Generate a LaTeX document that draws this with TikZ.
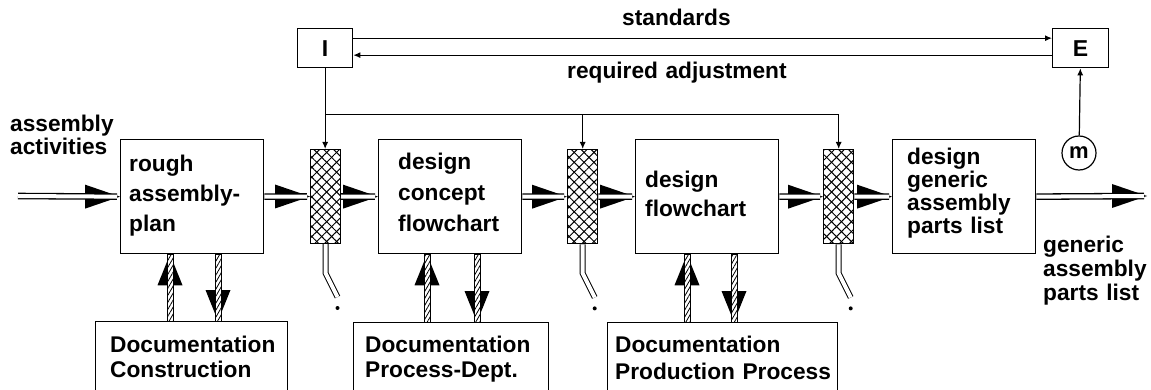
\documentclass[tikz,border=0pt]{standalone}
\usepackage{fontspec}
\setmainfont{Liberation Sans}
\usetikzlibrary{calc}
\usetikzlibrary{arrows.meta}
\usetikzlibrary{patterns.meta}

\tikzset{
  blk/.style={draw, line width=1.3pt, minimum width=143pt, minimum height=114pt, inner sep=0pt, anchor=north west},
  docblk/.style={draw, line width=1.3pt, minimum height=90pt, inner sep=0pt, anchor=north west},
  smallblk/.style={draw, line width=1.3pt, minimum width=55pt, minimum height=39pt, inner sep=0pt, anchor=north west,
    font=\fontsize{23}{26}\selectfont\bfseries},
  filterbar/.style={draw, line width=1.4pt, minimum width=30pt, minimum height=94pt, inner sep=0pt, anchor=north west,
    pattern={Lines[angle=45,distance=7pt,line width=1pt]},
    preaction={pattern={Lines[angle=-45,distance=7pt,line width=1pt]}}},
  lbl/.style={font=\fontsize{22.7}{30}\selectfont\bfseries, align=left, text width=240pt, inner sep=0pt, anchor=base west},
  ctrl/.style={line width=1.2pt, -{Latex[length=7pt,width=6pt]}},
  drain/.style={line width=1pt, double distance=4pt},
  docshaft/.style={line width=0.9pt, preaction={fill=white}, pattern={Lines[angle=60,distance=3.5pt,line width=0.8pt]}},
}

% double line running left to right, big black head, white core up to the tip
\newcommand\flowarrow[2]{%
  \fill (#2) -- ($(#2)+(-35,-12)$) -- ($(#2)+(-35,12)$) -- cycle;
  \draw[line width=1.3pt, double distance=4pt] (#1) -- ($(#2)+(-3,0)$);
}
% hatched shaft with a black head (vertical only)
\newcommand\docarrow[2]{%
  \coordinate (dabase) at ($(#2)!31pt!(#1)$);
  \fill (#2) -- ($(dabase)+(-12.5,0)$) -- ($(dabase)+(12.5,0)$) -- cycle;
  \draw[docshaft] ($(#1)+(-3,0)$) rectangle ($(#2)+(3,0)$);
}

\begin{document}
\begin{tikzpicture}[x=1pt,y=-1pt]
	\useasboundingbox (0,0) rectangle (1151,390);
	\clip (0,0) rectangle (1151,390);

	%Process blocks
	\node[blk] (b1) at (120,139) {};
	\node[blk] (b2) at (378,139) {};
	\node[blk] (b3) at (635,139) {};
	\node[blk] (b4) at (892,139) {};
	\node[lbl] (t1) at (129,172) {rough\\assembly-\\plan};
	\node[lbl, font=\fontsize{22.7}{31}\selectfont\bfseries] (t2) at (398,170) {design\\concept\\flowchart};
	\node[lbl, font=\fontsize{22.7}{29}\selectfont\bfseries] (t3) at (645,188) {design\\flowchart};
	\node[lbl, font=\fontsize{22.7}{22.7}\selectfont\bfseries] (t4) at (907,165) {design\\generic\\assembly\\parts list};

	%Filters
	\node[filterbar] (h1) at (310,149) {};
	\node[filterbar] (h2) at (567,149) {};
	\node[filterbar] (h3) at (823,149) {};

	%Documentation
	\node[docblk, minimum width=192pt] (d1) at (95,321) {};
	\node[docblk, minimum width=195pt] (d2) at (353,322) {};
	\node[docblk, minimum width=230pt] (d3) at (607,322) {};
	\node[lbl, font=\fontsize{22.7}{25}\selectfont\bfseries] (td1) at (110,352) {Documentation\\Construction};
	\node[lbl, font=\fontsize{22.7}{25}\selectfont\bfseries] (td2) at (365,352) {Documentation\\Process-Dept.};
	\node[lbl, font=\fontsize{22.7}{27}\selectfont\bfseries] (td3) at (615,352) {Documentation\\Production Process};

	%Main flow
	\coordinate (src) at (18,196);
	\coordinate (sink) at (1147,196);
	\node[lbl, font=\fontsize{22.7}{21}\selectfont\bfseries] (tin) at (10,132) {assembly\\activities};
	\node[lbl, font=\fontsize{22.7}{24}\selectfont\bfseries] (tout) at (1043,252) {generic\\assembly\\parts list};
	\flowarrow{src}{b1.west}
	\flowarrow{b1.east}{h1.west}
	\flowarrow{h1.east}{b2.west}
	\flowarrow{b2.east}{h2.west}
	\flowarrow{h2.east}{b3.west}
	\flowarrow{b3.east}{h3.west}
	\flowarrow{h3.east}{b4.west}
	\flowarrow{b4.east}{sink}

	%Exchange with documentation
	\path ($(b1.south west)+(50,0)$) coordinate (u1t) (u1t |- d1.north) coordinate (u1s);
	\path ($(b1.south west)+(98,0)$) coordinate (v1s) (v1s |- d1.north) coordinate (v1t);
	\path ($(b2.south west)+(49,0)$) coordinate (u2t) (u2t |- d2.north) coordinate (u2s);
	\path ($(b2.south west)+(99,0)$) coordinate (v2s) (v2s |- d2.north) coordinate (v2t);
	\path ($(b3.south west)+(52,0)$) coordinate (u3t) (u3t |- d3.north) coordinate (u3s);
	\path ($(b3.south west)+(99,0)$) coordinate (v3s) (v3s |- d3.north) coordinate (v3t);
	\docarrow{u1s}{u1t}
	\docarrow{v1s}{v1t}
	\docarrow{u2s}{u2t}
	\docarrow{v2s}{v2t}
	\docarrow{u3s}{u3t}
	\docarrow{v3s}{v3t}

	%Drains
	\draw[drain] (h1.south) -- ++(0,29) -- ++(12,24) coordinate (dr1);
	\draw[drain] (h2.south) -- ++(0,29) -- ++(12,24) coordinate (dr2);
	\draw[drain] (h3.south) -- ++(0,29) -- ++(12,24) coordinate (dr3);
	\fill ($(dr1)+(0,11)$) coordinate (drip1) circle (2);
	\fill ($(dr2)+(0,11)$) coordinate (drip2) circle (2);
	\fill ($(dr3)+(0,11)$) coordinate (drip3) circle (2);

	%Control loop
	\node[smallblk] (ibox) at (297,28) {I};
	\node[smallblk, minimum width=56pt] (ebox) at (1052,28) {E};
	\node[draw, circle, line width=1.2pt, minimum size=34pt, inner sep=0pt, font=\fontsize{22}{24}\selectfont\bfseries] (mnode) at (1079,153) {m};
	\draw[ctrl] ([yshift=10pt]ibox.east) -- ([yshift=10pt]ebox.west);
	\draw[ctrl] ([yshift=-7pt]ebox.west) -- ([yshift=-7pt]ibox.east);
	\node[lbl] (tstd) at (622,26) {standards};
	\node[lbl] (tadj) at (567,79) {required adjustment};
	\draw[ctrl] (mnode) -- (ebox);
	\draw[ctrl] (ibox.south) -- (ibox.south |- h1.north);
	\path (ibox.south) ++(0,46) coordinate (split);
	\draw[ctrl] (split) -| (h2.north);
	\draw[ctrl] (split) -| (h3.north);

\end{tikzpicture}
\end{document}
